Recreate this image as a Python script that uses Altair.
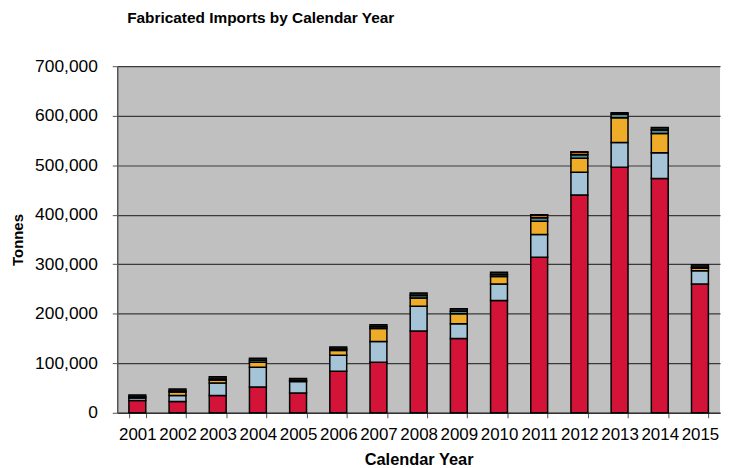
import altair as alt
import pandas as pd

years = [str(y) for y in range(2001, 2016)]
series = ["S1", "S2", "S3", "S4", "S5", "S6"]
colors = ["#D31338", "#A6C4D8", "#EFAC29", "#4E8B93", "#E36C0A", "#262626"]

s1 = [25, 23, 35, 52, 40, 84, 102, 165, 150, 227, 314, 440, 496, 473, 260]
s2 = [5, 12, 25, 40, 23, 32, 42, 50, 30, 33, 46, 46, 50, 52, 27]
s3 = [0, 7, 6, 10, 0, 10, 26, 17, 20, 15, 27, 28, 50, 39, 5]
s4 = [2, 2, 2, 4, 2, 3, 4, 5, 5, 4, 7, 7, 7, 7, 2]
s5 = [0, 0, 0, 0, 0, 0, 0, 0, 0, 0, 5, 5, 0, 0, 0]
s6 = [4, 4, 5, 4, 4, 4, 4, 5, 5, 5, 1, 1, 3, 5, 5]

rows = []
for name, vals in zip(series, [s1, s2, s3, s4, s5, s6]):
    for i, (yr, v) in enumerate(zip(years, vals)):
        if v > 0:
            rows.append({"Year": yr, "Series": name, "Order": series.index(name), "Tonnes": v * 1000})
df = pd.DataFrame(rows)

chart = alt.Chart(df).mark_bar(size=17, stroke="#000000", strokeWidth=1.5).encode(
    x=alt.X("Year:N", sort=years, title="Calendar Year",
            scale=alt.Scale(paddingInner=0.58, paddingOuter=0.29),
            axis=alt.Axis(labelAngle=0, tickBand="extent", tickSize=5, labelPadding=9,
                          labelFontSize=17, labelFont="Liberation Sans", labelColor="#000000",
                          titleFontSize=16.5, titleFont="Liberation Sans", titleFontWeight="bold",
                          titleColor="#000000", titleY=47, titleBaseline="middle",
                          domainColor="#333333", tickColor="#555555", domainWidth=1.5)),
    y=alt.Y("sum(Tonnes):Q", title="Tonnes", stack="zero",
            scale=alt.Scale(domain=[0, 700000], nice=False),
            axis=alt.Axis(values=list(range(0, 700001, 100000)), format=",.0f",
                          tickSize=5, labelPadding=15, labelFontSize=17.5,
                          labelFont="Liberation Sans", labelColor="#000000",
                          titleFontSize=15, titleFont="Liberation Sans", titleFontWeight="bold",
                          titleColor="#000000", titleX=-100, titleY=174.5, titleAngle=270,
                          titleBaseline="middle", titleAlign="center",
                          gridColor="#3a3a3a", gridWidth=1.2,
                          domainColor="#555555", tickColor="#555555", domainWidth=1.5)),
    color=alt.Color("Series:N", scale=alt.Scale(domain=series, range=colors), legend=None),
    order=alt.Order("Order:Q", sort="ascending"),
).properties(
    width=607,
    height=349,
    autosize=alt.AutoSizeParams(type="none"),
    padding={"left": 110, "top": 57, "right": 5, "bottom": 54},
    background="#ffffff",
    title=alt.TitleParams("Fabricated Imports  by Calendar Year", anchor="start", frame="group",
                          dx=10, offset=31, fontSize=15.5, font="Liberation Sans",
                          fontWeight="bold", color="#000000"),
).configure_view(fill="#C0C0C0", strokeWidth=0)

chart.save("out.html", embed_options={"renderer": "svg", "actions": False})
